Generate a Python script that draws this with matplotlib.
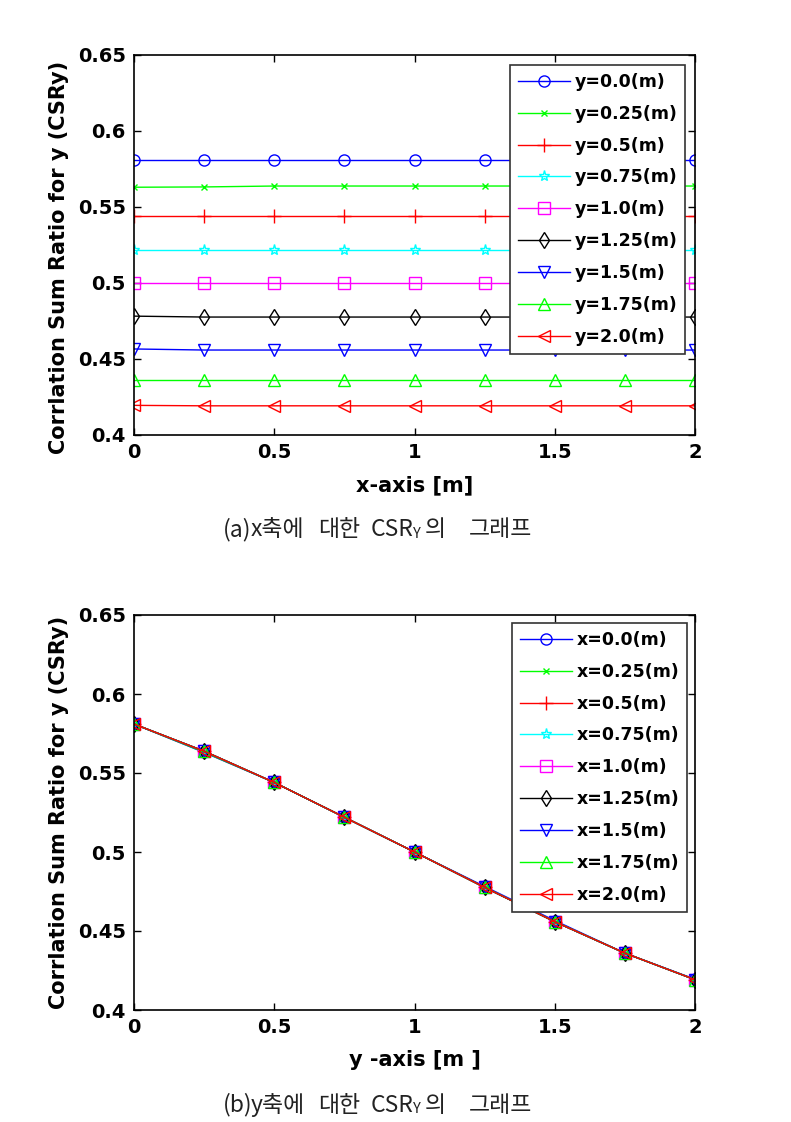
import matplotlib.pyplot as plt
import numpy as np

plt.rcParams["font.family"] = ["DejaVu Sans"]

pos = [0.0, 0.25, 0.5, 0.75, 1.0, 1.25, 1.5, 1.75, 2.0]
# csr[i][j]: value at y = pos[i], x = pos[j]
csr = [
    [0.581, 0.581, 0.581, 0.581, 0.581, 0.581, 0.581, 0.581, 0.581],
    [0.5630, 0.5632, 0.5638, 0.5638, 0.5638, 0.5638, 0.5638, 0.5638, 0.5638],
    [0.544, 0.544, 0.544, 0.544, 0.544, 0.544, 0.544, 0.544, 0.544],
    [0.522, 0.522, 0.522, 0.522, 0.522, 0.522, 0.522, 0.522, 0.522],
    [0.500, 0.500, 0.500, 0.500, 0.500, 0.500, 0.500, 0.500, 0.500],
    [0.4782, 0.4776, 0.4776, 0.4776, 0.4776, 0.4776, 0.4776, 0.4776, 0.4776],
    [0.4566, 0.4559, 0.4559, 0.4559, 0.4559, 0.4559, 0.4559, 0.4559, 0.4559],
    [0.436, 0.436, 0.436, 0.436, 0.436, 0.436, 0.436, 0.436, 0.436],
    [0.4195, 0.4192, 0.4192, 0.4192, 0.4192, 0.4192, 0.4192, 0.4192, 0.4192],
]
labels = ["0.0", "0.25", "0.5", "0.75", "1.0", "1.25", "1.5", "1.75", "2.0"]
colors = ["#0000ff", "#00ff00", "#ff0000", "#00ffff", "#ff00ff",
          "#000000", "#0000ff", "#00ff00", "#ff0000"]
markers = ["o", "x", "+", "*", "s", "d", "v", "^", "<"]
msizes = [8, 5, 10, 8, 9, 8, 8, 8, 8]

yticks = [0.4, 0.45, 0.5, 0.55, 0.6, 0.65]
ytick_labels = ["0.4", "0.45", "0.5", "0.55", "0.6", "0.65"]
xticks = [0, 0.5, 1, 1.5, 2]
xtick_labels = ["0", "0.5", "1", "1.5", "2"]

data = np.array(csr)
W, H = 791, 1122
fig = plt.figure(figsize=(W / 100, H / 100), dpi=100)


def px_axes(left, top, right, bottom):
    return fig.add_axes([left / W, 1 - bottom / H, (right - left) / W,
                         (bottom - top) / H])


def style(ax, xlabel, legend_box, ylab_y):
    ax.set_xlim(0, 2)
    ax.set_ylim(0.4, 0.65)
    ax.set_xticks(xticks)
    ax.set_xticklabels(xtick_labels, fontsize=14, fontweight="bold")
    ax.set_yticks(yticks)
    ax.set_yticklabels(ytick_labels, fontsize=14, fontweight="bold")
    ax.tick_params(direction="in", length=5, width=1, top=True, right=True)
    ax.tick_params(axis="x", pad=6)
    ax.tick_params(axis="y", pad=6)
    for sp in ax.spines.values():
        sp.set_linewidth(1.2)
    ax.set_xlabel(xlabel, fontsize=15, fontweight="bold", labelpad=9)
    ax.set_ylabel("Corrlation Sum Ratio for y (CSRy)", fontsize=15,
                  fontweight="bold")
    ax.yaxis.set_label_coords(-0.116, ylab_y)
    leg = ax.legend(loc="upper right", bbox_to_anchor=legend_box,
                    borderaxespad=0, fancybox=False, edgecolor="#333333",
                    framealpha=1, prop={"size": 12.5, "weight": "bold"},
                    handlelength=3.0, handletextpad=0.25, labelspacing=0.8,
                    borderpad=0.45)
    leg.get_frame().set_linewidth(1.2)


# (a) CSRy vs x for each y
ax1 = px_axes(134, 55, 695, 435)
for i in range(len(pos)):
    ax1.plot(pos, data[i, :], color=colors[i], marker=markers[i],
             markersize=msizes[i], mfc="none", mew=1, lw=1,
             label=f"y={labels[i]}(m)")
style(ax1, "x-axis [m]", ((685 - 134) / 561, (435 - 65) / 380), 0.466)

# (b) CSRy vs y for each x
ax2 = px_axes(134, 615, 695, 1010)
for j in range(len(pos)):
    ax2.plot(pos, data[:, j], color=colors[j], marker=markers[j],
             markersize=msizes[j], mfc="none", mew=1, lw=1,
             label=f"x={labels[j]}(m)")
style(ax2, "y -axis [m ]", ((687 - 134) / 561, (1010 - 623) / 395), 0.5)


# captions: word pieces placed at their pixel positions
cap_font = dict(family=["Noto Sans CJK KR", "DejaVu Sans"], color="#222222",
                va="center", ha="left")


def caption(yc, letter, axis_name):
    pieces = [(223, f"({letter})", 16.5), (251, f"{axis_name}축에", 16.5),
              (318, "대한", 16.5), (371, "CSR", 16.5), (413, "Y", 10.5),
              (425, "의", 16.5), (469, "그래프", 16.5)]
    for xp, txt, fs in pieces:
        dy = 4 if txt == "Y" else 0
        fig.text(xp / W, 1 - (yc + dy) / H, txt, fontsize=fs, **cap_font)


caption(530, "a", "x")
caption(1105, "b", "y")

fig.savefig("out.png", dpi=100)
